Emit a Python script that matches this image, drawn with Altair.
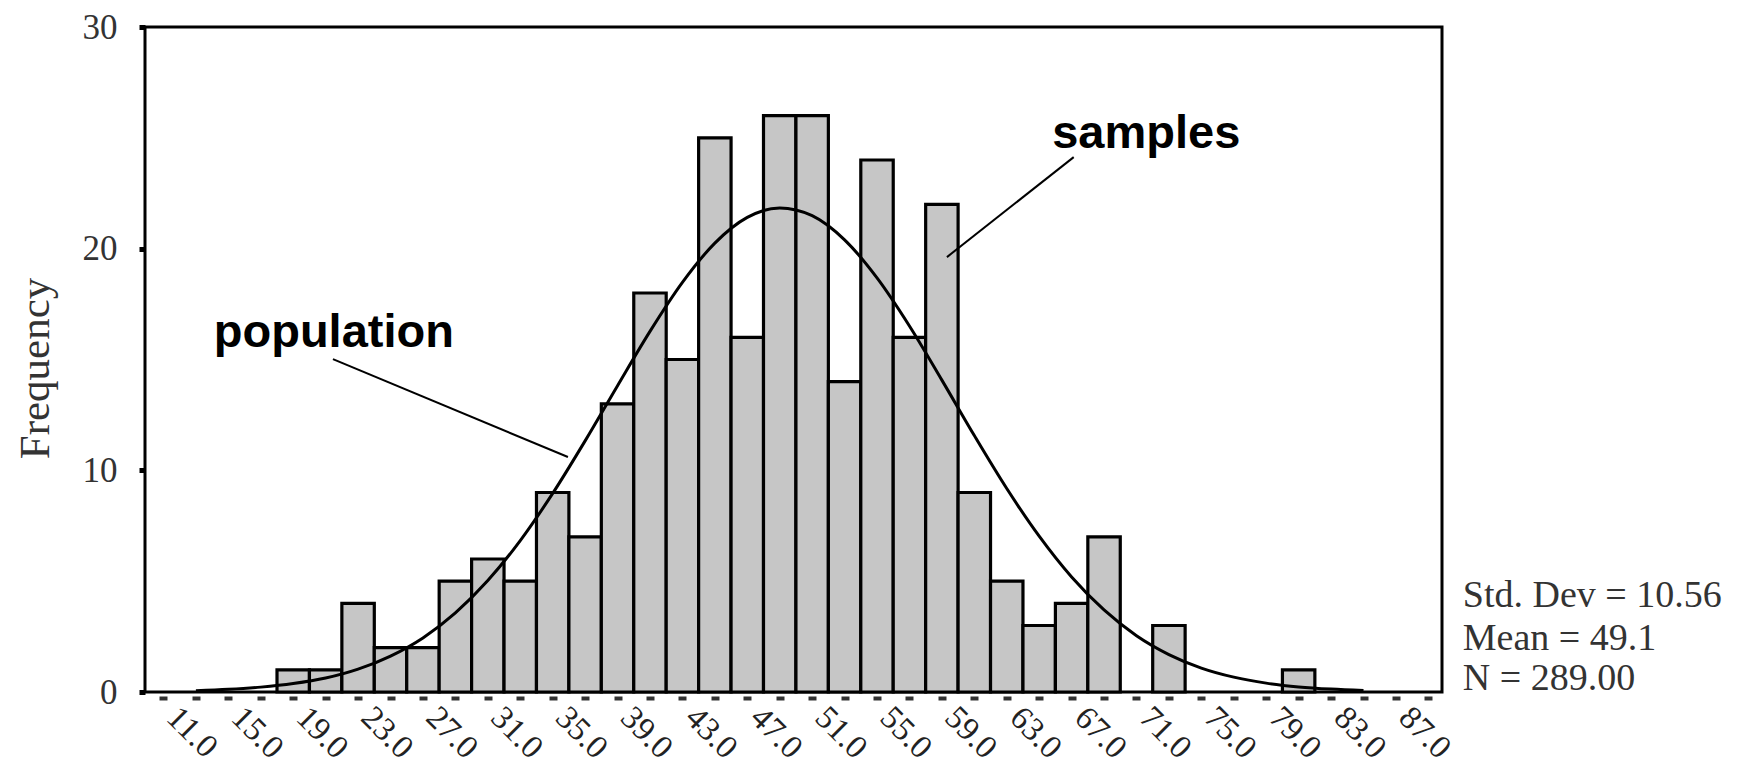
import altair as alt
import pandas as pd

# ---- data ----
bin_centers = [11, 13, 15, 17, 19, 21, 23, 25, 27, 29, 31, 33, 35, 37, 39, 41, 43, 45, 47, 49,
               51, 53, 55, 57, 59, 61, 63, 65, 67, 69, 71, 73, 75, 77, 79, 81, 83, 85, 87, 89]
counts = [0, 0, 0, 0, 1, 1, 4, 2, 2, 5, 6, 5, 9, 7, 13, 18, 15, 25, 16, 26,
          26, 14, 24, 16, 22, 9, 5, 3, 4, 7, 0, 3, 0, 0, 0, 1, 0, 0, 0, 0]
bin_width = 2

curve_x = [13, 15, 17, 19, 21, 23, 25, 27, 29, 31, 33, 35, 37, 39, 41, 43, 45, 47, 49,
           51, 53, 55, 57, 59, 61, 63, 65, 67, 69, 71, 73, 75, 77, 79, 81, 83, 85]
curve_y = [0.06, 0.12, 0.22, 0.38, 0.63, 1.03, 1.62, 2.44, 3.57, 5.03, 6.83, 8.96, 11.33, 13.82,
           16.27, 18.48, 20.25, 21.41, 21.84, 21.49, 20.40, 18.68, 16.51, 14.07, 11.57, 9.18,
           7.03, 5.19, 3.70, 2.54, 1.69, 1.08, 0.67, 0.40, 0.23, 0.13, 0.07]

stats_lines = ["Std. Dev = 10.56", "Mean = 49.1", "N = 289.00"]
label_names = ["population", "samples"]

# ---- annotation placement (data units) ----
label_x = [14.1, 65.8]
label_y = [15.56, 24.54]
pointer_x = [21.45, 67.13]
pointer_y = [15.02, 24.13]
pointer_x2 = [35.94, 59.31]
pointer_y2 = [10.6, 19.62]
stats_x = [91.12, 91.12, 91.12]
stats_y = [3.83, 1.89, 0.09]

X_DOMAIN = [9.86, 89.84]
Y_DOMAIN = [0, 30]

bars_df = pd.DataFrame({
    "center": bin_centers,
    "count": counts,
})
bars_df["start"] = bars_df["center"] - bin_width / 2
bars_df["end"] = bars_df["center"] + bin_width / 2
bars_df = bars_df[bars_df["count"] > 0]

curve_df = pd.DataFrame({"x": curve_x, "y": curve_y})
ann_df = pd.DataFrame({"name": label_names, "lx": label_x, "ly": label_y,
                       "px": pointer_x, "py": pointer_y, "px2": pointer_x2, "py2": pointer_y2})
stats_df = pd.DataFrame({"text": stats_lines, "sx": stats_x, "sy": stats_y})

xscale = alt.Scale(domain=X_DOMAIN, nice=False, zero=False)
yscale = alt.Scale(domain=Y_DOMAIN, nice=False, zero=True)

SERIF = "Liberation Serif"
SANS = "Liberation Sans"

x_axis = alt.Axis(
    values=bin_centers,
    labelExpr="(datum.value - 11) % 4 == 0 ? format(datum.value, '.1f') : ''",
    labelAngle=45, labelAlign="left", labelBaseline="middle",
    labelFont=SERIF, labelFontSize=33, labelColor="#222222",
    labelPadding=12, labelOffset=8,
    domain=False, grid=False,
    ticks=True, tickSize=4, tickWidth=8, tickColor="#333333", offset=4,
    labelOverlap=False, labelFlush=False, title=None,
)
y_axis = alt.Axis(
    values=[0, 10, 20, 30], format="d",
    labelFont=SERIF, labelFontSize=35, labelColor="#333333", labelPadding=22,
    domain=False, grid=False,
    ticks=True, tickSize=6, tickWidth=5, tickColor="black",
    title="Frequency", titleFont=SERIF, titleFontSize=43, titleFontWeight="normal",
    titleColor="#333333", titleX=-88, titleY=341, titleAngle=-90, titleBaseline="bottom",
)

bars = alt.Chart(bars_df).mark_rect(
    fill="#c6c6c6", stroke="black", strokeWidth=3.2
).encode(
    x=alt.X("start:Q", scale=xscale, axis=x_axis),
    x2="end:Q",
    y=alt.Y("count:Q", scale=yscale, axis=y_axis),
    y2=alt.datum(0),
)

curve = alt.Chart(curve_df).mark_line(
    color="black", strokeWidth=3, interpolate="monotone"
).encode(
    x=alt.X("x:Q", scale=xscale, axis=x_axis),
    y=alt.Y("y:Q", scale=yscale, axis=y_axis),
)

pointers = alt.Chart(ann_df).mark_rule(color="black", strokeWidth=2).encode(
    x=alt.X("px:Q", scale=xscale, axis=x_axis),
    y=alt.Y("py:Q", scale=yscale, axis=y_axis),
    x2="px2:Q",
    y2="py2:Q",
)

labels = alt.Chart(ann_df).mark_text(
    font=SANS, fontSize=47, fontWeight="bold", color="black",
    align="left", baseline="alphabetic"
).encode(
    x=alt.X("lx:Q", scale=xscale, axis=x_axis),
    y=alt.Y("ly:Q", scale=yscale, axis=y_axis),
    text="name:N",
)

stats = alt.Chart(stats_df).mark_text(
    font=SERIF, fontSize=38, color="#333333",
    align="left", baseline="alphabetic"
).encode(
    x=alt.X("sx:Q", scale=xscale, axis=x_axis),
    y=alt.Y("sy:Q", scale=yscale, axis=y_axis),
    text="text:N",
)

chart = alt.layer(bars, curve, pointers, labels, stats).properties(
    width=1297, height=665,
    autosize="none",
    padding={"left": 137, "top": 19, "right": 293, "bottom": 73},
    background="white",
).configure_view(
    stroke="black", strokeWidth=3
)

chart.save("out.html", embed_options={"renderer": "svg", "actions": False})
